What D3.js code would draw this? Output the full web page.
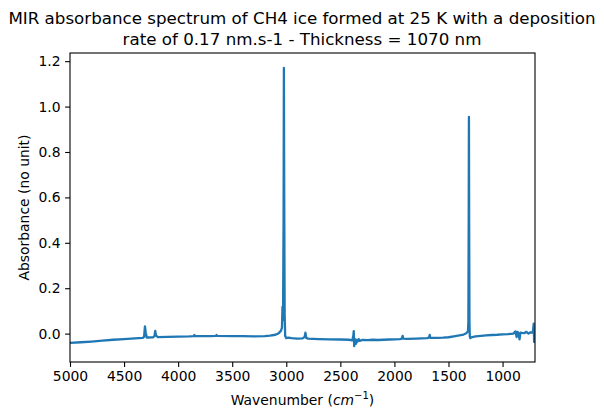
<!DOCTYPE html>
<html>
<head>
<meta charset="utf-8">
<script src="https://cdn.jsdelivr.net/npm/d3@7"></script>
<style>
    body { margin: 0; background: white; }
    svg { display: block; }
</style>
</head>
<body>
<div id="chart"></div>
<script>
// wavenumber (cm-1) and absorbance
const wavenumber = [
    5000, 4900, 4800, 4700, 4600, 4500, 4400, 4330, 4315, 4307, 4300, 4290,
    4230, 4218, 4212, 4205, 4190, 4100, 4000, 3900, 3855, 3850, 3845, 3700,
    3650, 3645, 3640, 3500, 3400, 3300, 3200, 3150, 3100, 3070, 3050, 3040,
    3035, 3030, 3025, 3022, 3019, 3015, 3010, 3000, 2980, 2950, 2900, 2850,
    2830, 2823, 2816, 2800, 2700, 2600, 2500, 2420, 2390, 2380, 2376, 2372,
    2368, 2362, 2355, 2348, 2340, 2330, 2320, 2300, 2250, 2200, 2150, 2100,
    2050, 2000, 1950, 1930, 1924, 1918, 1880, 1800, 1750, 1700, 1680, 1674,
    1668, 1600, 1550, 1500, 1450, 1400, 1360, 1335, 1320, 1316, 1313, 1311,
    1309, 1306, 1303, 1298, 1290, 1250, 1200, 1150, 1100, 1050, 1000, 950,
    900, 880, 870, 860, 850, 843, 835, 820, 800, 780, 760, 740, 720, 712,
    708, 704, 700
];
const absorbance = [
    -0.041, -0.038, -0.035, -0.031, -0.027, -0.024, -0.021, -0.019, -0.015, 0.032, 0.005, -0.017,
    -0.016, -0.010, 0.012, -0.008, -0.015, -0.014, -0.013, -0.012, -0.011, -0.006, -0.011, -0.011,
    -0.010, -0.006, -0.010, -0.011, -0.011, -0.012, -0.011, -0.009, -0.005, 0.002, 0.012, 0.025,
    0.118, 0.060, 0.500, 1.170, 0.600, 0.080, -0.010, -0.020, -0.018, -0.020, -0.022, -0.021,
    -0.015, 0.004, -0.018, -0.022, -0.024, -0.025, -0.026, -0.027, -0.030, -0.010, 0.011, -0.055,
    -0.040, -0.025, -0.045, -0.028, -0.035, -0.024, -0.032, -0.028, -0.029, -0.027, -0.028, -0.027,
    -0.026, -0.025, -0.024, -0.022, -0.010, -0.022, -0.023, -0.022, -0.021, -0.020, -0.018, -0.006,
    -0.019, -0.019, -0.018, -0.016, -0.012, -0.008, -0.004, 0.002, 0.010, 0.050, 0.500, 0.955,
    0.500, 0.050, -0.012, -0.020, -0.016, -0.012, -0.010, -0.008, -0.006, -0.005, -0.003, -0.002,
    0.000, 0.010, -0.015, 0.008, -0.005, -0.025, 0.004, 0.003, 0.002, 0.008, 0.000, 0.006, 0.004, 0.044,
    -0.037, 0.010, 0.005
];
const xTicks = [5000, 4500, 4000, 3500, 3000, 2500, 2000, 1500, 1000];
const yTicks = [0.0, 0.2, 0.4, 0.6, 0.8, 1.0, 1.2];

const width = 604;
const height = 420;
const margin = {top: 53, right: 69, bottom: 58, left: 70};

const spectrum = wavenumber.map((w, i) => ({w: w, a: absorbance[i]}));

const x = d3.scaleLinear()
    .domain([5000, 700])
    .range([margin.left, width - margin.right]);

const y = d3.scaleLinear()
    .domain([-0.125, 1.236])
    .range([height - margin.bottom, margin.top]);

const svg = d3.select('#chart')
    .append("svg")
    .attr("width", width)
    .attr("height", height)
    .style("font-family", "'DejaVu Sans', sans-serif");

svg.append("defs").append("clipPath")
    .attr("id", "clip")
    .append("rect")
    .attr("x", margin.left)
    .attr("y", margin.top)
    .attr("width", width - margin.left - margin.right)
    .attr("height", height - margin.top - margin.bottom);

const line = d3.line()
    .x(d => x(d.w))
    .y(d => y(d.a));

svg.append("path")
    .datum(spectrum)
    .attr("clip-path", "url(#clip)")
    .attr("fill", "none")
    .attr("stroke", "#1f77b4")
    .attr("stroke-width", 2.3)
    .attr("stroke-linejoin", "round")
    .attr("d", line);

const xAxis = svg.append("g")
    .attr("transform", `translate(0,${height - margin.bottom})`)
    .call(d3.axisBottom(x).tickValues(xTicks).tickFormat(d3.format("d")).tickSize(4.9).tickPadding(4.5));

const yAxis = svg.append("g")
    .attr("transform", `translate(${margin.left},0)`)
    .call(d3.axisLeft(y).tickValues(yTicks).tickFormat(d3.format(".1f")).tickSize(4.9).tickPadding(4.5));

[xAxis, yAxis].forEach(g => {
    g.select(".domain").remove();
    g.selectAll("line").attr("stroke", "black").attr("stroke-width", 1.1);
    g.selectAll("text")
        .attr("fill", "black")
        .style("font-size", "13.9px")
        .style("font-family", "'DejaVu Sans', sans-serif");
});

// frame
svg.append("rect")
    .attr("x", margin.left)
    .attr("y", margin.top)
    .attr("width", width - margin.left - margin.right)
    .attr("height", height - margin.top - margin.bottom)
    .attr("fill", "none")
    .attr("stroke", "black")
    .attr("stroke-width", 1.1);

const title = svg.append("text")
    .attr("text-anchor", "middle")
    .style("font-size", "16.7px")
    .attr("fill", "black");
title.append("tspan")
    .attr("x", width / 2)
    .attr("y", 24)
    .text("MIR absorbance spectrum of CH4 ice formed at 25 K with a deposition");
title.append("tspan")
    .attr("x", width / 2)
    .attr("y", 45)
    .text("rate of 0.17 nm.s-1 - Thickness = 1070 nm");

const xLabel = svg.append("text")
    .attr("x", (margin.left + width - margin.right) / 2)
    .attr("y", 405)
    .attr("text-anchor", "middle")
    .style("font-size", "13.9px")
    .attr("fill", "black");
xLabel.append("tspan").text("Wavenumber (");
xLabel.append("tspan").style("font-style", "italic").text("cm");
xLabel.append("tspan").attr("dy", -6).style("font-size", "10px").text("\u22121");
xLabel.append("tspan").attr("dy", 6).text(")");

svg.append("text")
    .attr("transform", `translate(29,${(margin.top + height - margin.bottom) / 2}) rotate(-90)`)
    .attr("text-anchor", "middle")
    .style("font-size", "13.9px")
    .attr("fill", "black")
    .text("Absorbance (no unit)");
</script>
</body>
</html>
